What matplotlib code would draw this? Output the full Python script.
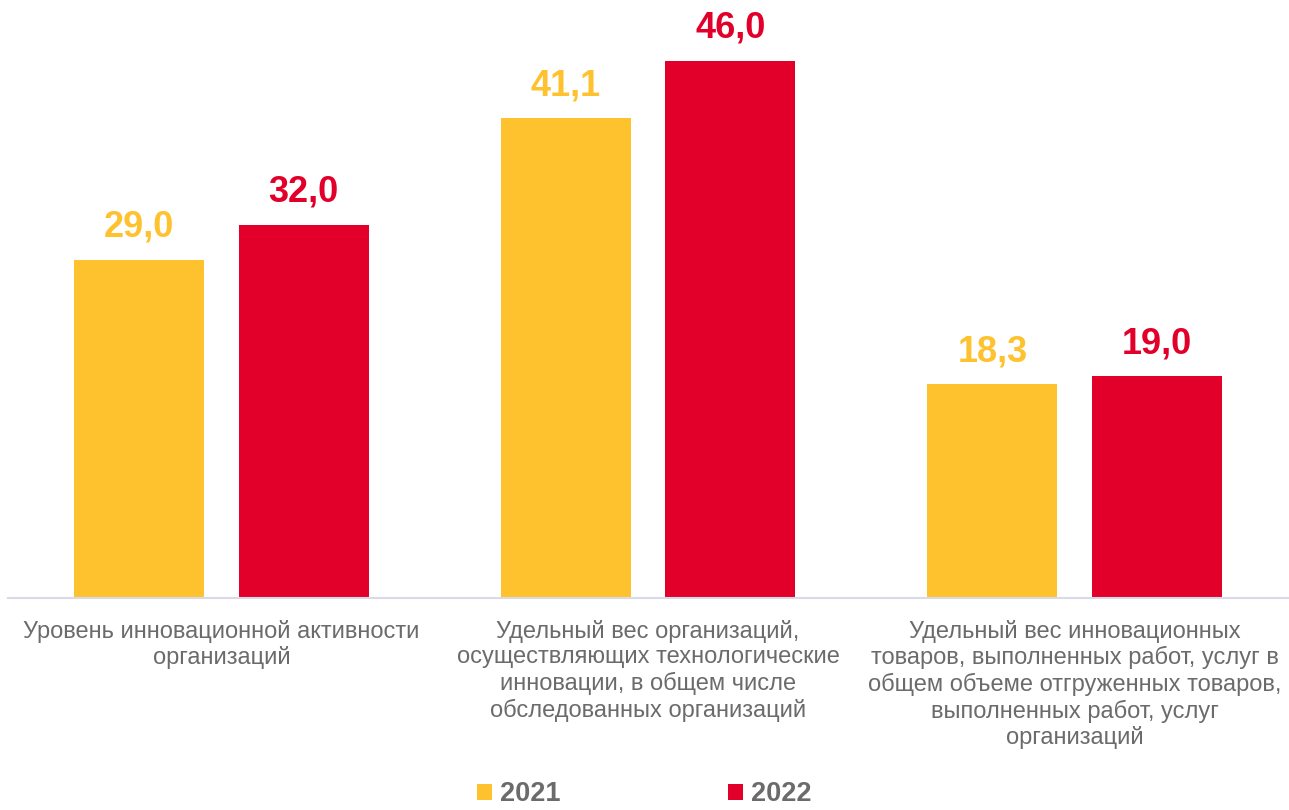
import matplotlib.pyplot as plt
import numpy as np

categories = [
    "Уровень инновационной активности\nорганизаций",
    "Удельный вес организаций,\nосуществляющих технологические\nинновации, в общем числе\nобследованных организаций",
    "Удельный вес инновационных\nтоваров, выполненных работ, услуг в\nобщем объеме отгруженных товаров,\nвыполненных работ, услуг\nорганизаций",
]
years = ["2021", "2022"]
values_2021 = [29.0, 41.1, 18.3]
values_2022 = [32.0, 46.0, 19.0]

colors = ["#FFC22F", "#E2002A"]
text_gray = "#6b6b6b"

plt.rcParams['font.family'] = ['Liberation Sans', 'DejaVu Sans']

fig = plt.figure(figsize=(12.89, 8.10), dpi=100)
ax = fig.add_axes([8 / 1289, 1 - 598 / 810, 1280 / 1289, 598 / 810])

x = np.arange(len(categories))
width = 0.305
offset = 0.193

for vals, col, lab, sign in [(values_2021, colors[0], years[0], -1),
                             (values_2022, colors[1], years[1], 1)]:
    bars = ax.bar(x + sign * offset, vals, width, color=col, label=lab)
    for b, v in zip(bars, vals):
        ax.annotate(f"{v:.1f}".replace(".", ","),
                    (b.get_x() + b.get_width() / 2, v),
                    xytext=(0, 11), textcoords="offset points",
                    ha="center", va="bottom", fontsize=26,
                    fontweight="bold", color=col)

ax.set_xlim(-0.5, 2.5)
ax.set_ylim(0, 51.25)
ax.set_yticks([])
for s in ["top", "right", "left"]:
    ax.spines[s].set_visible(False)
ax.spines["bottom"].set_color("#d9d9e8")
ax.spines["bottom"].set_linewidth(1.5)
ax.set_xticks(x)
ax.set_xticklabels(categories, fontsize=17, color=text_gray,
                   linespacing=1.2, va="top")
ax.tick_params(axis="x", length=0, pad=15.5)

leg = fig.legend(loc="lower center", ncol=2, frameon=False,
                 bbox_to_anchor=(0.5, -0.027), fontsize=19.5,
                 handlelength=0.55, handleheight=0.55, handletextpad=0.3,
                 columnspacing=6.2)
for t in leg.get_texts():
    t.set_color(text_gray)
    t.set_fontweight("bold")

fig.savefig("out.png", dpi=100)
